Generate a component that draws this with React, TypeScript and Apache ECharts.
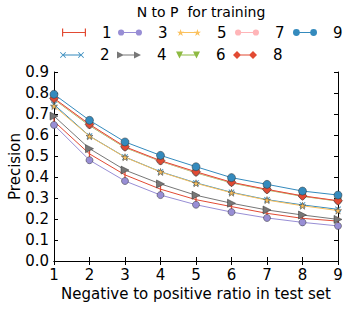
import React, { useEffect, useRef } from "react";
import * as echarts from "echarts";

const ratios = [1, 2, 3, 4, 5, 6, 7, 8, 9];
const seriesNames = ["1", "2", "3", "4", "5", "6", "7", "8", "9"];
const s1 = [0.665, 0.51, 0.41, 0.342, 0.292, 0.259, 0.227, 0.203, 0.19];
const s2 = [0.745, 0.595, 0.495, 0.425, 0.372, 0.327, 0.292, 0.267, 0.246];
const s3 = [0.648, 0.48, 0.381, 0.314, 0.268, 0.233, 0.205, 0.184, 0.167];
const s4 = [0.69, 0.535, 0.433, 0.367, 0.313, 0.275, 0.243, 0.219, 0.198];
const s5 = [0.738, 0.594, 0.494, 0.424, 0.37, 0.325, 0.29, 0.263, 0.24];
const s6 = [0.77, 0.645, 0.54, 0.475, 0.42, 0.372, 0.338, 0.308, 0.285];
const s7 = [0.772, 0.648, 0.542, 0.476, 0.422, 0.374, 0.34, 0.31, 0.286];
const s8 = [0.775, 0.651, 0.544, 0.478, 0.425, 0.375, 0.341, 0.31, 0.287];
const s9 = [0.794, 0.67, 0.567, 0.503, 0.449, 0.397, 0.365, 0.333, 0.314];
const allValues = [s1, s2, s3, s4, s5, s6, s7, s8, s9];
const yTicks = [0, 0.1, 0.2, 0.3, 0.4, 0.5, 0.6, 0.7, 0.8, 0.9];

const colors = ["#E24A33", "#348ABD", "#988ED5", "#777777", "#FBC15E", "#8EBA42", "#FFB5B8", "#E24A33", "#348ABD"];

const FONT = "DejaVu Sans";
const W = 24;

// ---- marker geometry helpers (shapes only) ----
const f = (n: number) => n.toFixed(2);
const circle = (cx: number, cy: number, r: number) =>
  `M${f(cx - r)},${f(cy)} A${f(r)},${f(r)} 0 1,1 ${f(cx + r)},${f(cy)} A${f(r)},${f(r)} 0 1,1 ${f(cx - r)},${f(cy)} Z `;
const rect = (x1: number, y1: number, x2: number, y2: number) =>
  `M${f(x1)},${f(y1)} L${f(x2)},${f(y1)} L${f(x2)},${f(y2)} L${f(x1)},${f(y2)} Z `;
const poly = (pts: number[][]) =>
  "M" + pts.map((p) => `${f(p[0])},${f(p[1])}`).join(" L") + " Z ";
const xShape = (cx: number, cy: number, s: number) => {
  const a = s / 2, t = s * 0.1;
  return poly([
    [cx - a, cy - a + t], [cx - a + t, cy - a], [cx, cy - t], [cx + a - t, cy - a], [cx + a, cy - a + t],
    [cx + t, cy], [cx + a, cy + a - t], [cx + a - t, cy + a], [cx, cy + t], [cx - a + t, cy + a],
    [cx - a, cy + a - t], [cx - t, cy],
  ]);
};
const star = (cx: number, cy: number, R: number) => {
  const pts: number[][] = [];
  for (let k = 0; k < 10; k++) {
    const ang = -Math.PI / 2 + (k * Math.PI) / 5;
    const rr = k % 2 === 0 ? R : R * 0.4;
    pts.push([cx + rr * Math.cos(ang), cy + rr * Math.sin(ang)]);
  }
  return poly(pts);
};
const triRight = (cx: number, cy: number, s: number) =>
  poly([[cx - s / 2, cy - s / 2], [cx + s / 2, cy], [cx - s / 2, cy + s / 2]]);
const triDown = (cx: number, cy: number, s: number) =>
  poly([[cx - s / 2, cy - s / 2], [cx + s / 2, cy - s / 2], [cx, cy + s / 2]]);
const diamond = (cx: number, cy: number, s: number) =>
  poly([[cx, cy - s / 2], [cx + s / 2, cy], [cx, cy + s / 2], [cx - s / 2, cy]]);
const line = (x1: number, x2: number, cy: number) => rect(x1, cy - 0.55, x2, cy + 0.55);

const legendIcon = (i: number): [string, number] => {
  let d = "";
  let h = 7;
  if (i === 0) {
    h = 8;
    d = rect(0, 0, 1.2, h) + line(1.2, W - 1.2, h / 2) + rect(W - 1.2, 0, W, h);
  } else if (i === 1) {
    h = 6;
    d = xShape(3, 3, 6) + line(3, W - 3, 3) + xShape(W - 3, 3, 6);
  } else if (i === 3) {
    h = 7;
    d = triRight(3.5, 3.5, 7) + line(3.5, W - 3.5, 3.5) + triRight(W - 3.5, 3.5, 7);
  } else if (i === 4) {
    h = 7;
    d = star(3.5, 3.8, 3.8) + line(3.5, W - 3.5, 3.5) + star(W - 3.5, 3.8, 3.8);
  } else if (i === 5) {
    h = 7;
    d = triDown(3.5, 3.5, 7) + line(3.5, W - 3.5, 3.5) + triDown(W - 3.5, 3.5, 7);
  } else if (i === 7) {
    h = 8;
    d = diamond(4, 4, 8) + line(4, W - 4, 4) + diamond(W - 4, 4, 8);
  } else {
    const r = i === 8 ? 3.4 : 3.1;
    h = 2 * r;
    d = circle(r, r, r) + line(r, W - r, r) + circle(W - r, r, r);
  }
  return ["path://" + d, h];
};

const xPath = "path://M0,1 L1,0 L5,4 L9,0 L10,1 L6,5 L10,9 L9,10 L5,6 L1,10 L0,9 L4,5 Z";
const starPath = "path://M5,0 L6.2,3.8 L10,3.8 L6.9,6.1 L8.1,10 L5,7.6 L1.9,10 L3.1,6.1 L0,3.8 L3.8,3.8 Z";
const symbols: any[] = [
  { symbol: "rect", size: [1.3, 8], rotate: 0, border: false },
  { symbol: xPath, size: 6, rotate: 0, border: false },
  { symbol: "circle", size: 7, rotate: 0, border: true },
  { symbol: "triangle", size: 8, rotate: -90, border: true },
  { symbol: starPath, size: 7, rotate: 0, border: true },
  { symbol: "triangle", size: 7, rotate: 180, border: true },
  { symbol: "circle", size: 7, rotate: 0, border: true },
  { symbol: "diamond", size: 9, rotate: 0, border: true },
  { symbol: "circle", size: 8, rotate: 0, border: true },
];
// legend slot per series: [left of handle, row]
const legendSlots = [
  [62, 0], [60, 1], [118, 0], [117, 1], [177, 0], [176, 1], [235, 0], [233, 1], [293, 0],
];
const legendRowCenter = [34, 56.5];

export default function App() {
  const ref = useRef<HTMLDivElement>(null);
  useEffect(() => {
    if (!ref.current) return;
    const chart = echarts.init(ref.current, null, { renderer: "svg" });
    const series = seriesNames.map((name, i) => ({
      name,
      type: "line",
      data: ratios.map((r, j) => [r, allValues[i][j]]),
      symbol: symbols[i].symbol,
      symbolSize: symbols[i].size,
      symbolRotate: symbols[i].rotate,
      showSymbol: true,
      lineStyle: { color: colors[i], width: 1 },
      itemStyle: {
        color: colors[i],
        borderColor: symbols[i].border ? "#333333" : colors[i],
        borderWidth: symbols[i].border ? 0.5 : 0,
      },
      emphasis: { disabled: true },
      z: 2 + i,
    }));
    const legends = seriesNames.map((name, i) => {
      const [icon, h] = legendIcon(i);
      return {
        orient: "horizontal",
        left: legendSlots[i][0],
        top: legendRowCenter[legendSlots[i][1]] - 9,
        padding: 0,
        itemWidth: W,
        itemHeight: h,
        itemStyle: { borderWidth: 0 },
        data: [{ name, icon }],
        selectedMode: false,
        textStyle: { fontFamily: FONT, fontSize: 15, color: "#000", padding: [0, 0, 0, 11] },
      };
    });
    chart.setOption({
      animation: false,
      textStyle: { fontFamily: FONT },
      title: {
        text: "N to P  for training",
        left: 196,
        textAlign: "center",
        top: 0,
        textStyle: { fontFamily: FONT, fontSize: 14, fontWeight: "normal", color: "#000" },
      },
      legend: legends,
      grid: { left: 54, right: 15, top: 72, bottom: 49, containLabel: false, outerBoundsMode: "none" },
      xAxis: [
        {
          type: "value",
          min: 1,
          max: 9,
          interval: 1,
          name: "Negative to positive ratio in test set",
          nameLocation: "middle",
          nameGap: 25,
          nameMoveOverlap: false,
          nameTextStyle: { fontFamily: FONT, fontSize: 15, color: "#000" },
          axisLine: { lineStyle: { color: "#000", width: 1 } },
          axisTick: { show: true, inside: true, length: 4, lineStyle: { color: "#000" } },
          axisLabel: { fontFamily: FONT, fontSize: 15, color: "#000", margin: 6 },
          splitLine: { show: false },
        },
        {
          type: "value",
          position: "top",
          min: 1,
          max: 9,
          interval: 1,
          axisLine: { lineStyle: { color: "#000", width: 1 } },
          axisTick: { show: true, inside: true, length: 4, lineStyle: { color: "#000" } },
          axisLabel: { show: false },
          splitLine: { show: false },
        },
      ],
      yAxis: [
        {
          type: "value",
          min: 0,
          max: 0.9,
          interval: 0.1,
          name: "Precision",
          nameLocation: "middle",
          nameGap: 32,
          nameMoveOverlap: false,
          nameTextStyle: { fontFamily: FONT, fontSize: 15, color: "#000" },
          axisLine: { show: true, lineStyle: { color: "#000", width: 1 } },
          axisTick: { show: true, inside: true, length: 4, lineStyle: { color: "#000" } },
          axisLabel: {
            fontFamily: FONT,
            fontSize: 15,
            color: "#000",
            margin: 5,
            formatter: (v: number) => {
              const t = yTicks.find((k) => Math.abs(k - v) < 1e-6);
              return (t !== undefined ? t : v).toFixed(1);
            },
          },
          splitLine: { show: false },
        },
        {
          type: "value",
          position: "right",
          min: 0,
          max: 0.9,
          interval: 0.1,
          axisLine: { show: true, lineStyle: { color: "#000", width: 1 } },
          axisTick: { show: true, inside: true, length: 4, lineStyle: { color: "#000" } },
          axisLabel: { show: false },
          splitLine: { show: false },
        },
      ],
      series,
    });
    return () => chart.dispose();
  }, []);
  return (
    <div
      ref={ref}
      style={{ position: "absolute", left: 0, top: 0, width: 353, height: 310 }}
    />
  );
}
